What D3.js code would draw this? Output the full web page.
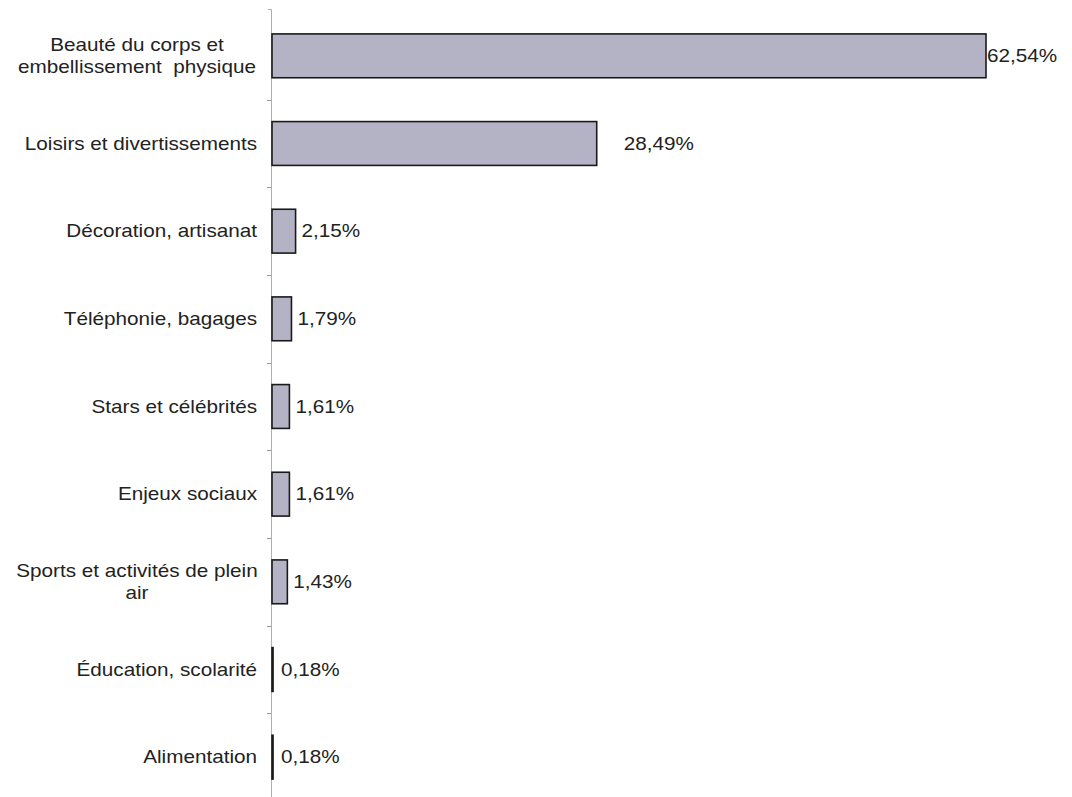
<!DOCTYPE html>
<html><head><meta charset="utf-8">
<script src="https://cdn.jsdelivr.net/npm/d3@7"></script>
<style>body{margin:0;background:#fff} text{white-space:pre}</style>
</head><body>
<svg id="c" width="1072" height="797"></svg>
<script>
const categories = [
  ["Beauté du corps et", "embellissement  physique"],
  ["Loisirs et divertissements"],
  ["Décoration, artisanat"],
  ["Téléphonie, bagages"],
  ["Stars et célébrités"],
  ["Enjeux sociaux"],
  ["Sports et activités de plein", "air"],
  ["Éducation, scolarité"],
  ["Alimentation"]
];
const values = [62.54, 28.49, 2.15, 1.79, 1.61, 1.61, 1.43, 0.18, 0.18];
const valueLabels = ["62,54%", "28,49%", "2,15%", "1,79%", "1,61%", "1,61%", "1,43%", "0,18%", "0,18%"];

const svg = d3.select("#c");
const FONT = "Liberation Sans, Arial, sans-serif";
const SX = 1.15;  // horizontal stretch of the reference's text
const x0 = 271;
const x = d3.scaleLinear().domain([0, 62.54]).range([x0, 986]);
const y = d3.scaleBand().domain(d3.range(categories.length)).range([12, 801]).paddingInner(0.5).paddingOuter(0.25);
const labelGap = [1, 27, 6, 6, 6, 6, 6, 8, 8];

svg.append("path").attr("d", `M${x0 - 3},9.5H${x0 + 0.5}V797`)
  .attr("fill", "none").attr("stroke", "#b0b0b0").attr("stroke-width", 1);
const step = y.step();
for (let i = 1; i < categories.length; i++) {
  const ty = Math.round(y(i) - y.paddingInner() * step / 2) + 0.5;
  svg.append("line").attr("x1", x0 - 4).attr("x2", x0).attr("y1", ty).attr("y2", ty)
    .attr("stroke", "#999").attr("stroke-width", 1);
}

const g = svg.selectAll("g.bar").data(values).enter().append("g");
g.append("rect")
  .attr("x", x0 + 1)
  .attr("y", (d, i) => y(i))
  .attr("width", d => Math.max(x(d) - x0 - 1, 1))
  .attr("height", y.bandwidth())
  .attr("fill", "#b4b3c6")
  .attr("stroke", "#1a1a1a")
  .attr("stroke-width", 1.6);

g.append("text")
  .attr("transform", (d, i) => `translate(${x(d) + labelGap[i]},${y(i) + y.bandwidth() / 2}) scale(${SX},1)`)
  .attr("dy", "0.35em")
  .attr("font-family", FONT)
  .attr("font-size", 18)
  .attr("fill", "#222")
  .text((d, i) => valueLabels[i]);

categories.forEach((lines, i) => {
  const cy = y(i) + y.bandwidth() / 2;
  const lh = 22;
  const multi = lines.length > 1;
  const t = svg.append("text")
    .attr("text-anchor", multi ? "middle" : "end")
    .attr("font-family", FONT)
    .attr("font-size", 18)
    .attr("fill", "#222")
    .attr("transform", `translate(${multi ? 137 : 257},${cy}) scale(${SX},1)`);
  lines.forEach((l, k) => {
    t.append("tspan")
      .attr("x", 0)
      .attr("y", (k - (lines.length - 1) / 2) * lh)
      .attr("dy", "0.35em")
      .text(l);
  });
});
</script>
</body></html>
